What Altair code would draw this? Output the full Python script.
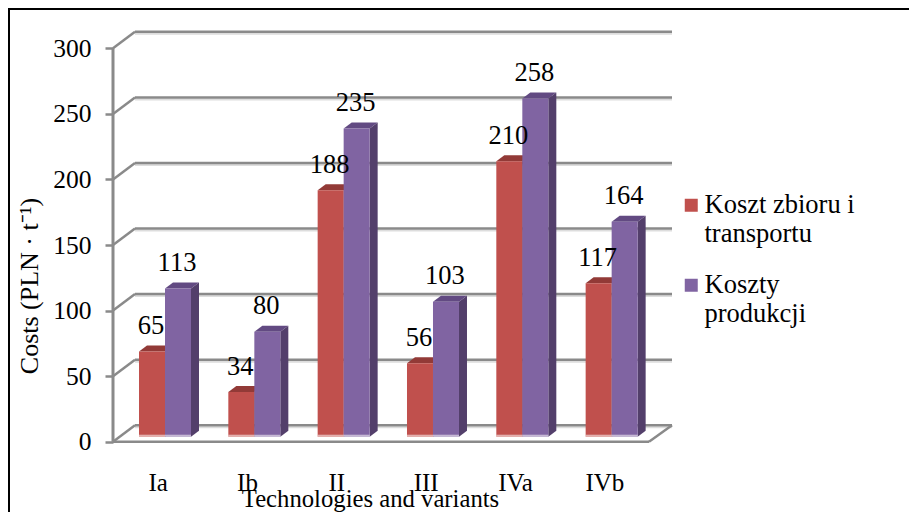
import json
import altair as alt
import pandas as pd

categories = ["Ia", "Ib", "II", "III", "IVa", "IVb"]
harvest_cost = [65, 34, 188, 56, 210, 117]
production_cost = [113, 80, 235, 103, 258, 164]
series_names = ["Koszt zbioru i transportu", "Koszty produkcji"]
y_ticks = [0, 50, 100, 150, 200, 250, 300]

FONT = "Liberation Serif"
W, H = 901, 504
PX_PER_CAT = 89.33
PX_PER_VAL = 1.3113
X0, Y0 = 113.0, 441.7  # page position of the front-floor origin
GRID = "#8a8a8a"

def ux(px):
    return px / PX_PER_CAT

def uy(px):
    return px / PX_PER_VAL

x_scale = alt.Scale(domain=[(8 - X0) / PX_PER_CAT, (8 + W - X0) / PX_PER_CAT], nice=False, zero=False)
y_scale = alt.Scale(domain=[(Y0 - 8 - H) / PX_PER_VAL, (Y0 - 8) / PX_PER_VAL], nice=False, zero=False)

n = len(categories)
back_dx, back_dy = ux(22), uy(16.5)
bar_dx, bar_dy = ux(8), uy(6)
base = uy(5)
start = ux(26)
bar_w = ux(26)

front, faces, labels = [], [], []
for si, (name, vals) in enumerate(zip(series_names, [harvest_cost, production_cost])):
    for c, v in enumerate(vals):
        L = c + start + si * bar_w
        R = L + bar_w
        top = base + v
        front.append(dict(series=name, x=L, x2=R, y=base, y2=top, glow=base + uy(2)))
        labels.append(dict(x=(L + R) / 2 - ux(1), y=top, text=str(v)))
        tid = f"{si}-{c}"
        part = "red" if si == 0 else "purple"
        for px, a, b in [(L, top, top), (L + bar_dx, top + bar_dy, top),
                         (R, top + bar_dy, top), (R + bar_dx, top + bar_dy, top + bar_dy)]:
            faces.append(dict(face="t" + tid, part="top-" + part, px=px, lo=a, hi=b))
        for px, a, b in [(R, top, base), (R + bar_dx, top + bar_dy, base + bar_dy)]:
            faces.append(dict(face="s" + tid, part="side-" + part, px=px, lo=a, hi=b))

front = pd.DataFrame(front)
faces = pd.DataFrame(faces)
labels = pd.DataFrame(labels)

ticks = pd.DataFrame(dict(v=y_ticks))
ticks["x0"] = 0.0
ticks["xb"] = back_dx
ticks["xe"] = ux(672 - X0)
ticks["vb"] = ticks["v"] + back_dy

Y_AXIS = alt.Axis(
    orient="left", offset=-105, values=y_ticks, grid=False, domain=False,
    tickSize=8, tickColor=GRID, tickWidth=2.5, labelPadding=14,
    labelFont=FONT, labelFontSize=25.5, labelColor="black",
    title="Costs (PLN · t⁻¹)", titleFont=FONT, titleFontSize=26, titleFontWeight="normal",
    titleColor="black", titleAnchor="middle", titleAngle=270, titleBaseline="alphabetic",
    titleX=-76, titleY=277.5, titleAlign="center")
X_AXIS = alt.Axis(
    orient="bottom", offset=-70.3, values=[i + 0.5 for i in range(n)], grid=False, domain=False,
    ticks=False, labelPadding=49, labelBaseline="alphabetic",
    labelExpr=json.dumps(categories) + "[floor(datum.value)]",
    labelFont=FONT, labelFontSize=25, labelColor="black",
    title="Technologies and variants", titleFont=FONT, titleFontSize=24.7, titleFontWeight="normal",
    titleColor="black", titleBaseline="alphabetic", titleX=362, titleY=65, titleAlign="center")

X = lambda f: alt.X(f, type="quantitative", scale=x_scale, axis=X_AXIS)
Y = lambda f: alt.Y(f, type="quantitative", scale=y_scale, axis=Y_AXIS)

shadow = alt.Chart(ticks).mark_rule(color="#dddddd", strokeWidth=2, yOffset=2).encode(
    x=X("xb"), x2="xe", y=Y("vb"))
grid = alt.Chart(ticks).mark_rule(color=GRID, strokeWidth=2.5).encode(
    x=X("xb"), x2="xe", y=Y("vb"))
diag = alt.Chart(ticks).mark_rule(color=GRID, strokeWidth=2.5).encode(
    x=X("x0"), x2="xb", y=Y("v"), y2="vb")

floor_df = pd.DataFrame([dict(a=0.0, b=ux(649 - X0), v=0.0, w=0.0),
                         dict(a=ux(649 - X0), b=ux(672 - X0), v=0.0, w=back_dy)])
floor = alt.Chart(floor_df).mark_rule(color=GRID, strokeWidth=2.5).encode(
    x=X("a"), x2="b", y=Y("v"), y2="w")
wall_df = pd.DataFrame(dict(x=[0.0], v=[0], w=[300]))
wall = alt.Chart(wall_df).mark_rule(color=GRID, strokeWidth=3).encode(
    x=X("x"), y=Y("v"), y2="w")

face_colors = {"top-red": "#923a37", "side-red": "#7a2f2d", "top-purple": "#624a82", "side-purple": "#533f6b"}
face_layers = [
    alt.Chart(faces[faces["part"] == k]).mark_area(color=col, opacity=1).encode(
        x=X("px"), y=alt.Y("lo:Q", scale=y_scale, axis=Y_AXIS, stack=None), y2="hi", detail="face:N")
    for k, col in face_colors.items()
]

bars = alt.Chart(front).mark_rect().encode(
    x=X("x"), x2="x2", y=Y("y"), y2="y2",
    color=alt.Color("series:N", scale=alt.Scale(domain=series_names, range=["#C0504D", "#8064A2"]),
                    legend=alt.Legend(
                        orient="none", legendX=670, legendY=184, title=None,
                        symbolType="square", symbolSize=169, symbolStrokeWidth=0,
                        labelFont=FONT, labelFontSize=26.5, labelColor="black", labelLimit=300,
                        labelOffset=0, rowPadding=24,
                        labelExpr="datum.label == '" + series_names[0] + "' ? ['Koszt zbioru i', 'transportu'] : ['Koszty', 'produkcji']")))
glow = alt.Chart(front).mark_rect(color="white", opacity=0.55).encode(
    x=X("x"), x2="x2", y=Y("y"), y2="glow")

text = alt.Chart(labels).mark_text(font=FONT, fontSize=26.5, color="black", dy=-17.5, baseline="alphabetic", align="center").encode(
    x=X("x"), y=Y("y"), text="text:N")

frame_df = pd.DataFrame(dict(a=[0]))
left_border = alt.Chart(frame_df).mark_rule(color="black", strokeWidth=2).encode(
    x=alt.value(1), y=alt.value(0), y2=alt.value(H))
top_border = alt.Chart(frame_df).mark_rule(color="black", strokeWidth=2).encode(
    y=alt.value(1), x=alt.value(0), x2=alt.value(W))

chart = alt.layer(
    shadow, grid, diag, floor, wall, *face_layers, bars, glow, text, left_border, top_border
).properties(
    width=W, height=H, padding=0, autosize=alt.AutoSizeParams(type="none"), background="white"
).configure_view(stroke=None)

chart.save("out.html", embed_options={"renderer": "svg", "actions": False})
